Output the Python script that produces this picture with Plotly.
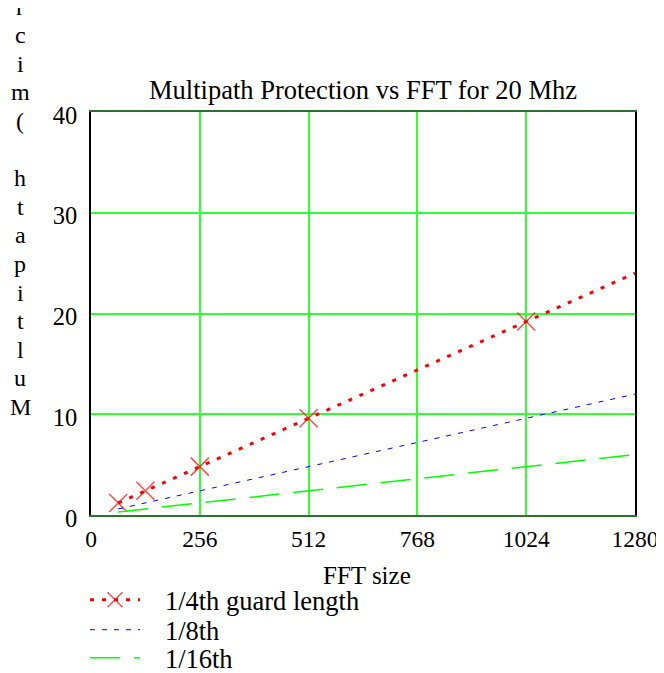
import plotly.graph_objects as go

fft_size = [64, 128, 256, 512, 1024, 1280]
quarter_guard = [1.2, 2.4, 4.8, 9.6, 19.2, 24.0]
eighth_guard = [0.6, 1.2, 2.4, 4.8, 9.6, 12.0]
sixteenth_guard = [0.3, 0.6, 1.2, 2.4, 4.8, 6.0]
marker_sizes = [18, 18, 18, 18, 18, 0]

x_ticks = [0, 256, 512, 768, 1024, 1280]
y_ticks = [0, 10, 20, 30, 40]

title_text = "Multipath Protection vs FFT for 20 Mhz"
x_title = "FFT size"
y_title = "Multipath (microseconds)"
names = ["1/4th guard length", "1/8th", "1/16th"]

FONT = "Liberation Serif, Times New Roman, serif"
PAD = "\u00a0\u00a0\u00a0"

fig = go.Figure()
fig.add_trace(go.Scatter(
    x=fft_size, y=quarter_guard, name=PAD + names[0], mode="lines+markers",
    line=dict(color="#ff0000", width=3, dash="4px,8px"),
    marker=dict(symbol="x-thin-open", size=marker_sizes,
                line=dict(color="rgba(255,0,0,0.75)", width=1.5)),
    legend="legend",
))
fig.add_trace(go.Scatter(
    x=fft_size, y=eighth_guard, name=PAD + names[1], mode="lines",
    line=dict(color="#0000ff", width=1, dash="5px,7px"),
    legend="legend2",
))
fig.add_trace(go.Scatter(
    x=fft_size, y=sixteenth_guard, name=PAD + names[2], mode="lines",
    line=dict(color="#00ff00", width=1.5, dash="30px,14px"),
    legend="legend3",
))

# page body has an 8px margin; figure coordinates are relative to that
W, H = 656, 665
ml, mt, pw, ph = 83, 104, 544, 403

# stacked vertical y-axis label, letters bottom to top
letters = list(y_title)
for i, ch in enumerate(letters):
    cy = 399 - i * 28.6
    fig.add_annotation(
        text=ch, xref="paper", yref="paper",
        x=(12 - ml) / pw, y=(mt + ph - cy) / ph,
        xanchor="center", yanchor="middle", showarrow=False,
        font=dict(family=FONT, size=24, color="black"),
    )

# x-axis title
fig.add_annotation(
    text=x_title, xref="paper", yref="paper",
    x=(359 - ml) / pw, y=(mt + ph - 567) / ph,
    xanchor="center", yanchor="middle", showarrow=False,
    font=dict(family=FONT, size=25, color="black"),
)

leg_common = dict(font=dict(family=FONT, size=26.5, color="black"),
                  bgcolor="rgba(0,0,0,0)", borderwidth=0, itemwidth=50,
                  xref="paper", yref="container",
                  xanchor="left", yanchor="middle")
rows = [592, 622, 650]
legs = {}
for k, r in zip(["legend", "legend2", "legend3"], rows):
    legs[k] = dict(leg_common, x=(77 - ml) / pw, y=1 - r / H)

fig.update_layout(
    width=W, height=H,
    margin=dict(l=ml, r=W - ml - pw, t=mt, b=H - mt - ph),
    paper_bgcolor="white", plot_bgcolor="white",
    font=dict(family=FONT, size=24, color="black"),
    title=dict(text=title_text, x=0.5, xref="paper", xanchor="center",
               y=1 - 82 / H, yref="container", yanchor="middle",
               font=dict(family=FONT, size=26.5, color="black")),
    xaxis=dict(range=[0, 1280], tickvals=x_ticks, ticktext=[str(v) for v in x_ticks],
               automargin=False,
               showgrid=True, gridcolor="#33ff33", gridwidth=1.5,
               zeroline=False, showline=True, linecolor="#2f6f2f", linewidth=2,
               mirror=True, ticks="", ticklabelshift=0, ticklabelstandoff=2,
               ticklabeloverflow="allow",
               tickfont=dict(family=FONT, size=23.5)),
    yaxis=dict(range=[0, 40], tickvals=y_ticks, ticktext=[str(v) for v in y_ticks],
               automargin=False,
               showgrid=True, gridcolor="#33ff33", gridwidth=1.5,
               zeroline=False, showline=True, linecolor="black", linewidth=1.5,
               mirror=True, ticks="", ticklabelshift=3, ticklabelstandoff=7,
               ticklabeloverflow="allow",
               tickfont=dict(family=FONT, size=24.5)),
    showlegend=True,
    **legs,
)

fig.write_html("out.html")
